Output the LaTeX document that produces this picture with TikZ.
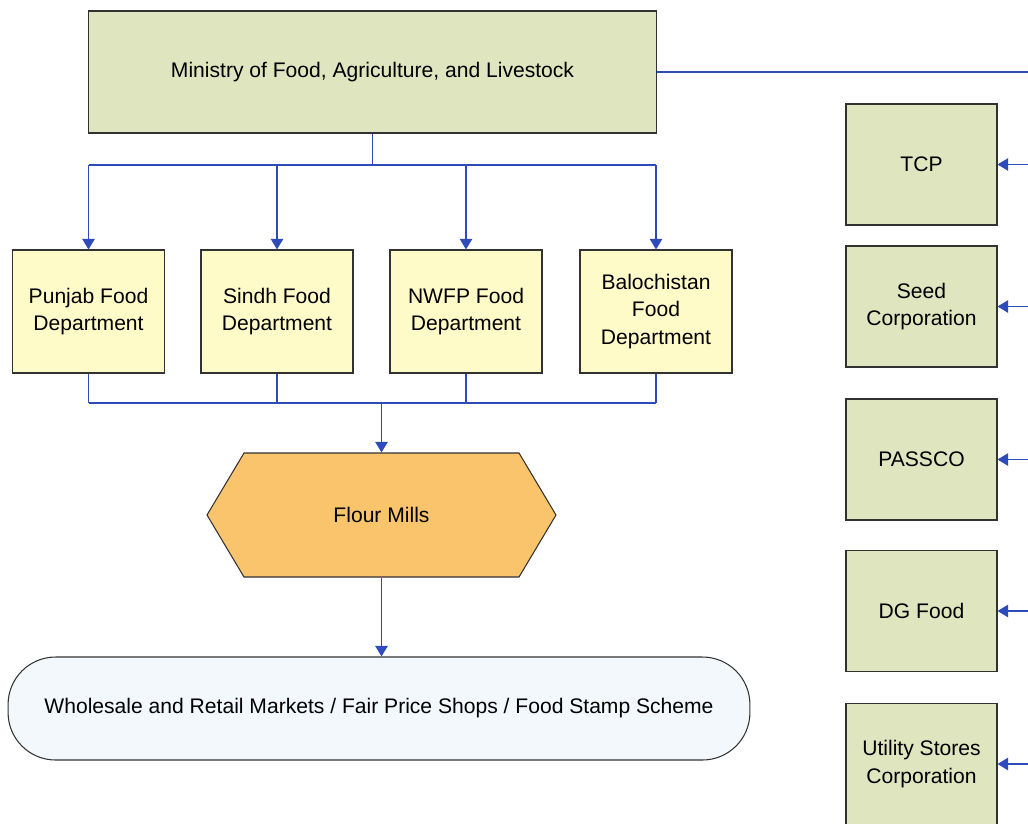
\documentclass[tikz,border=0pt]{standalone}
\usepackage{fontspec}
\setmainfont{Liberation Sans}
\usepackage{tikz}
\usetikzlibrary{arrows.meta}
\tikzset{>=latex}
\usetikzlibrary{calc}

\definecolor{ministrygreen}{RGB}{223,229,190}
\definecolor{deptyellow}{RGB}{255,251,200}
\definecolor{millorange}{RGB}{250,196,108}
\definecolor{outletblue}{RGB}{243,248,253}
\definecolor{linkblue}{RGB}{45,75,185}
\definecolor{edgegray}{RGB}{50,50,50}

\tikzset{
  box/.style={draw=edgegray, line width=0.6pt, align=center, inner sep=0pt,
    font=\fontsize{12}{15.5}\selectfont},
  deptbox/.style={box, fill=deptyellow, minimum width=3.04cm, minimum height=2.46cm},
  unitbox/.style={box, fill=ministrygreen, minimum width=3.02cm, minimum height=2.42cm},
  link/.style={draw=linkblue, line width=0.8pt},
  linkarrow/.style={link, -{Triangle[length=6pt,width=7pt]}},
}

\begin{document}
\begin{tikzpicture}[x=0.02cm, y=-0.02cm]
    \useasboundingbox (0,0) rectangle (1028,823);
    \clip (0,0) rectangle (1028,823);

    % ministry and provinces
    \node[box, fill=ministrygreen, minimum width=11.38cm, minimum height=2.44cm] (ministry) at (372.5,72) {Ministry of Food, Agriculture, and Livestock};
    \node[deptbox] (punjab) at (88.5,311.5) {Punjab Food\\Department};
    \node[deptbox] (sindh) at (277,311.5) {Sindh Food\\Department};
    \node[deptbox] (nwfp) at (466,311.5) {NWFP Food\\Department};
    \node[deptbox] (baloch) at (656,311.5) {Balochistan\\Food\\Department};

    \coordinate (split) at (372.5,165);
    \draw[link] (ministry.south) -- (split);
    \draw[link] (punjab.north |- split) -- (baloch.north |- split);
    \foreach \d in {punjab,sindh,nwfp,baloch}
      \draw[linkarrow] (\d.north |- split) -- (\d.north);

    % flour mills
    \filldraw[fill=millorange, draw=edgegray, line width=0.6pt]
      (207,515) -- (244,453) -- (519,453) -- (556,515) -- (519,577) -- (244,577) -- cycle;
    \node[box, draw=none, minimum width=5.5cm, minimum height=2.48cm] (mills) at (381.5,515) {Flour Mills};

    \coordinate (merge) at (381.5,403);
    \foreach \d in {punjab,sindh,nwfp,baloch}
      \draw[link] (\d.south) -- (\d.south |- merge);
    \draw[link] (punjab.south |- merge) -- (baloch.south |- merge);
    \draw[linkarrow] (merge) -- (mills.north);

    % outlets
    \node[box, fill=outletblue, rounded corners=0.95cm, minimum width=14.84cm, minimum height=2.06cm] (outlets) at (379,708.5) {Wholesale and Retail Markets / Fair Price Shops / Food Stamp Scheme};
    \draw[linkarrow] (mills.south) -- (mills.south |- outlets.north);

    % attached bodies
    \node[unitbox] (tcp) at (921.5,164.5) {TCP};
    \node[unitbox] (seed) at (921.5,306.5) {Seed\\Corporation};
    \node[unitbox] (passco) at (921.5,459.5) {PASSCO};
    \node[unitbox] (dgfood) at (921.5,611) {DG Food};
    \node[unitbox] (utility) at (921.5,764) {Utility Stores\\Corporation};

    \coordinate (edge) at (1028,72);
    \draw[link] (ministry.east) -- (edge);
    \foreach \u in {tcp,seed,passco,dgfood,utility}
      \draw[linkarrow] (edge |- \u.east) -- (\u.east);
\end{tikzpicture}
\end{document}
